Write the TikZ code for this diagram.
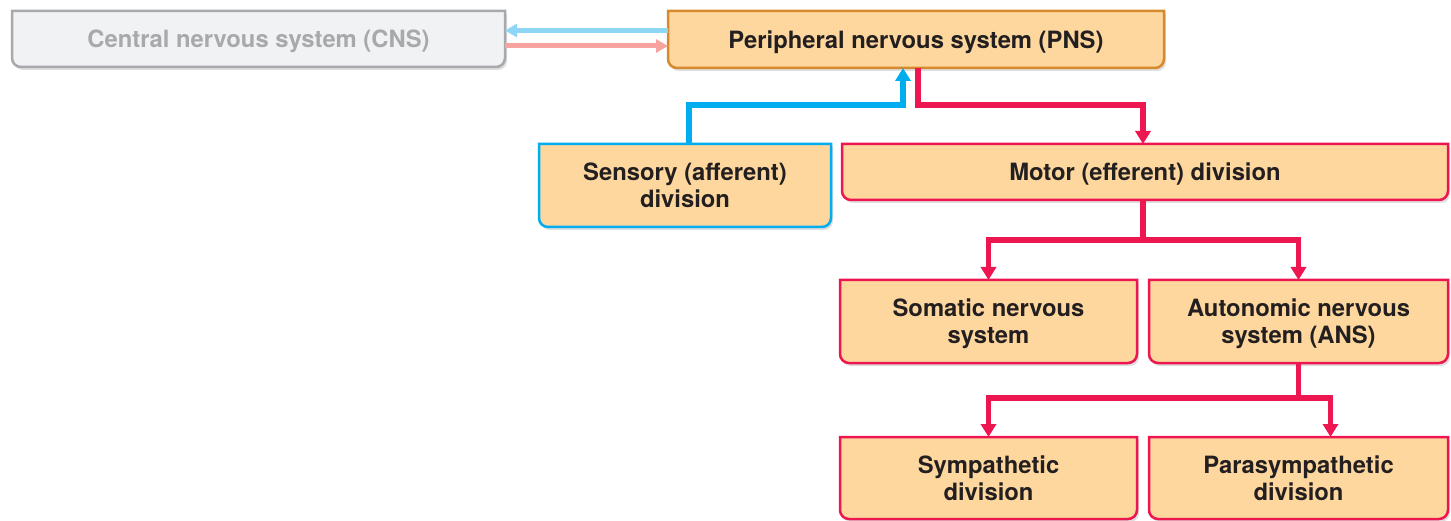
\documentclass[tikz,border=0pt]{standalone}
\usepackage{fontspec}
\setmainfont{TeX Gyre Heros}
\usetikzlibrary{arrows.meta}
\pgfdeclarelayer{bg}
\pgfsetlayers{bg,main}
\definecolor{boxfill}{HTML}{FDD79D}
\definecolor{pnsedge}{HTML}{D68A2D}
\definecolor{cnsfill}{HTML}{F1F2F3}
\definecolor{cnsgray}{HTML}{A7A9AC}
\definecolor{crimson}{HTML}{ED1651}
\definecolor{cyanline}{HTML}{00AEEF}
\definecolor{lightblue}{HTML}{8DD6F6}
\definecolor{lightpink}{HTML}{F8A49E}
\definecolor{txt}{HTML}{231F20}
% outline with square top corners and rounded bottom corners
\newcommand\boxoutline[3]{([shift={(#2,#3)}]#1.north west) -- ([shift={(#2,#3)}]#1.north east) -- ([shift={(#2,#3+9)}]#1.south east) arc[start angle=0,end angle=-90,radius=9pt] -- ([shift={(#2+9,#3)}]#1.south west) arc[start angle=270,end angle=180,radius=9pt] -- cycle}
\newcommand\drawbox[3]{%
  \fill[black,opacity=.13] \boxoutline{#1}{2}{-3};
  \path[fill=#2,draw=#3,line width=2.5pt] \boxoutline{#1}{0}{0};}
\begin{document}
\begin{tikzpicture}[x=1pt,y=1pt,
  box/.style={inner sep=0pt,outer sep=0pt,align=center,text depth=0pt,
    font=\bfseries\fontsize{23.8}{27}\selectfont,text=txt},
  conn/.style={line width=5.5pt},
  tipped/.style={-{Triangle[length=13pt,width=15pt]}},
  smalltip/.style={-{Triangle[length=12pt,width=13pt]}}]
\useasboundingbox (0,0) rectangle (1451,520);
% nodes
\node[box, minimum width=493pt, minimum height=56pt, text=cnsgray] (cns) at (258.5,481) {Central nervous system (CNS)};
\node[box, minimum width=496pt, minimum height=57pt] (pns) at (916,480.5) {Peripheral nervous system (PNS)};
\node[box, minimum width=292pt, minimum height=83pt] (sens) at (685,334.5) {Sensory (afferent)\\division};
\node[box, minimum width=606pt, minimum height=56pt] (motor) at (1145,348) {Motor (efferent) division};
\node[box, minimum width=297pt, minimum height=83pt] (soma) at (988.5,198.5) {Somatic nervous\\system};
\node[box, minimum width=299pt, minimum height=83pt] (ans) at (1298.5,198.5) {Autonomic nervous\\system (ANS)};
\node[box, minimum width=297pt, minimum height=82pt] (symp) at (988.5,42) {Sympathetic\\division};
\node[box, minimum width=299pt, minimum height=82pt] (para) at (1298.5,42) {Parasympathetic\\division};
% box shapes
\begin{pgfonlayer}{bg}
  \drawbox{cns}{cnsfill}{cnsgray}
  \drawbox{pns}{boxfill}{pnsedge}
  \drawbox{sens}{boxfill}{cyanline}
  \drawbox{motor}{boxfill}{crimson}
  \drawbox{soma}{boxfill}{crimson}
  \drawbox{ans}{boxfill}{crimson}
  \drawbox{symp}{boxfill}{crimson}
  \drawbox{para}{boxfill}{crimson}
\end{pgfonlayer}
% CNS <-> PNS
\draw[conn, line width=5pt, lightblue, smalltip] ([yshift=9pt]pns.west) -- ([yshift=9pt]pns.west -| cns.east);
\draw[conn, line width=5pt, lightpink, smalltip] ([yshift=-6.5pt]pns.west -| cns.east) -- ([yshift=-6.5pt]pns.west);
% sensory -> PNS
\draw[conn, cyanline, tipped] ([xshift=4pt]sens.north) -- ++(0,39) -| ([xshift=-13pt]pns.south);
% PNS -> motor
\draw[conn, crimson, tipped] ([xshift=2pt]pns.south) -- ++(0,-37) -| ([xshift=-2pt]motor.north);
% motor -> somatic / autonomic
\coordinate (j1) at ([shift={(-2pt,-40pt)}]motor.south);
\draw[conn, crimson] ([xshift=-2pt]motor.south) -- (j1);
\draw[conn, crimson, tipped] (j1) -| (soma.north);
\draw[conn, crimson, tipped] (j1) -| (ans.north);
% autonomic -> sympathetic / parasympathetic
\coordinate (j2) at ([yshift=-35pt]ans.south);
\draw[conn, crimson] (ans.south) -- (j2);
\draw[conn, crimson, tipped] (j2) -| (symp.north);
\draw[conn, crimson, tipped] (j2) -| ([xshift=32pt]para.north);
\end{tikzpicture}
\end{document}
